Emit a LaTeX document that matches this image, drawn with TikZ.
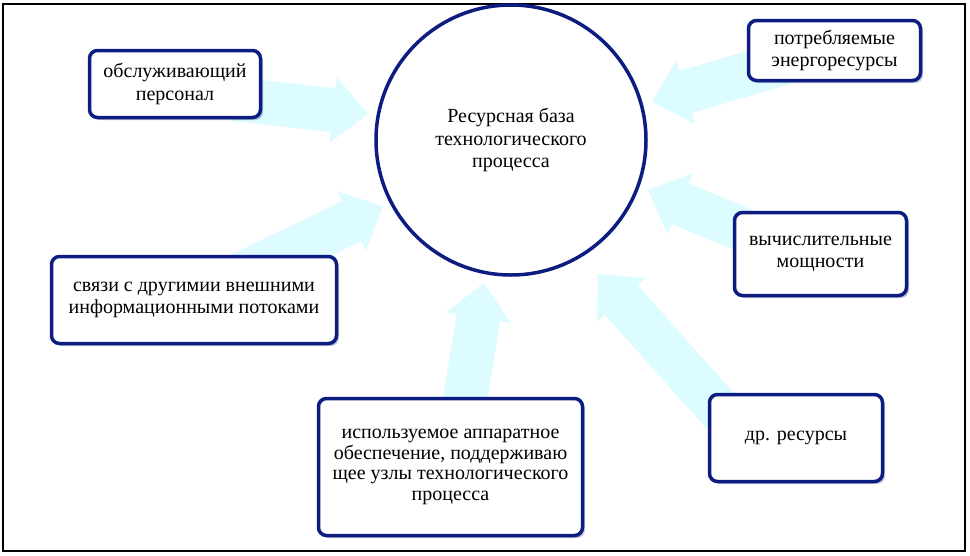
\documentclass[tikz,border=0pt]{standalone}
\usepackage{fontspec}
\setmainfont{Liberation Serif}
\usetikzlibrary{calc,shadows}
\definecolor{navy}{RGB}{12,28,128}
\definecolor{arrowfill}{RGB}{220,252,255}
\tikzset{
  box/.style={draw=navy, line width=3.5pt, rounded corners=8pt, fill=white,
    align=center, inner sep=0pt,
    font=\fontsize{20}{22.5}\selectfont,
    drop shadow={shadow xshift=2.5pt, shadow yshift=-2.5pt, opacity=0.3, fill=navy!60!gray}},
  hub/.style={draw=navy, line width=3.5pt, circle, fill=white, align=center,
    inner sep=0pt, minimum size=270pt, font=\fontsize{20}{22.5}\selectfont},
  frame/.style={draw=black, line width=2pt},
  barrow/.style={fill=arrowfill, draw=none}
}
\newcommand{\blockarr}[2]{%
  \coordinate (ab) at ($(#2)!35pt!(#1)$);
  \fill[barrow] ($(#1)!22pt!90:(#2)$) -- ($(ab)!22pt!90:(#2)$) -- ($(ab)!33pt!90:(#2)$)
    -- (#2) -- ($(ab)!33pt!-90:(#2)$) -- ($(ab)!22pt!-90:(#2)$) -- ($(#1)!22pt!-90:(#2)$) -- cycle;
}
\begin{document}
\begin{tikzpicture}[x=1pt,y=-1pt]
\useasboundingbox (0,0) rectangle (970,555);
\fill[white] (0,0) rectangle (970,555);
\draw[frame] (3,4) rectangle (965,551);

% arrow tails and tips
\coordinate (t1) at (234,99);   \coordinate (p1) at (368,114);
\coordinate (t2) at (800,58);   \coordinate (p2) at (652,102);
\coordinate (t3) at (772,242);  \coordinate (p3) at (648,190);
\coordinate (t4) at (723,414);  \coordinate (p4) at (598,274);
\coordinate (t5) at (461,425);  \coordinate (p5) at (484,283);
\coordinate (t6) at (198,295);  \coordinate (p6) at (383,206);

\blockarr{t1}{p1}
\blockarr{t2}{p2}
\blockarr{t3}{p3}
\blockarr{t4}{p4}
\blockarr{t5}{p5}
\blockarr{t6}{p6}

\node[hub] (hub) at (511,140) {Ресурсная база\\технологического\\процесса};

\node[box, minimum width=171pt, minimum height=67pt] (b1) at (175,84)
  {обслуживающий\\персонал};
\node[box, minimum width=172pt, minimum height=60pt] (b2) at (834.5,50.5)
  {потребляемые\\энергоресурсы};
\node[box, minimum width=285pt, minimum height=87pt] (b3) at (194,300)
  {связи с другимии внешними\\информационными потоками};
\node[box, minimum width=172pt, minimum height=83pt] (b4) at (820.5,254)
  {вычислительные\\мощности};
\node[box, minimum width=264pt, minimum height=137pt,
  font=\fontsize{20}{20.5}\selectfont] (b5) at (450.5,467)
  {используемое аппаратное\\обеспечение, поддерживаю\\щее узлы технологического\\процесса};
\node[box, minimum width=173pt, minimum height=87pt] (b6) at (796,438)
  {др. ресурсы};
\end{tikzpicture}
\end{document}
